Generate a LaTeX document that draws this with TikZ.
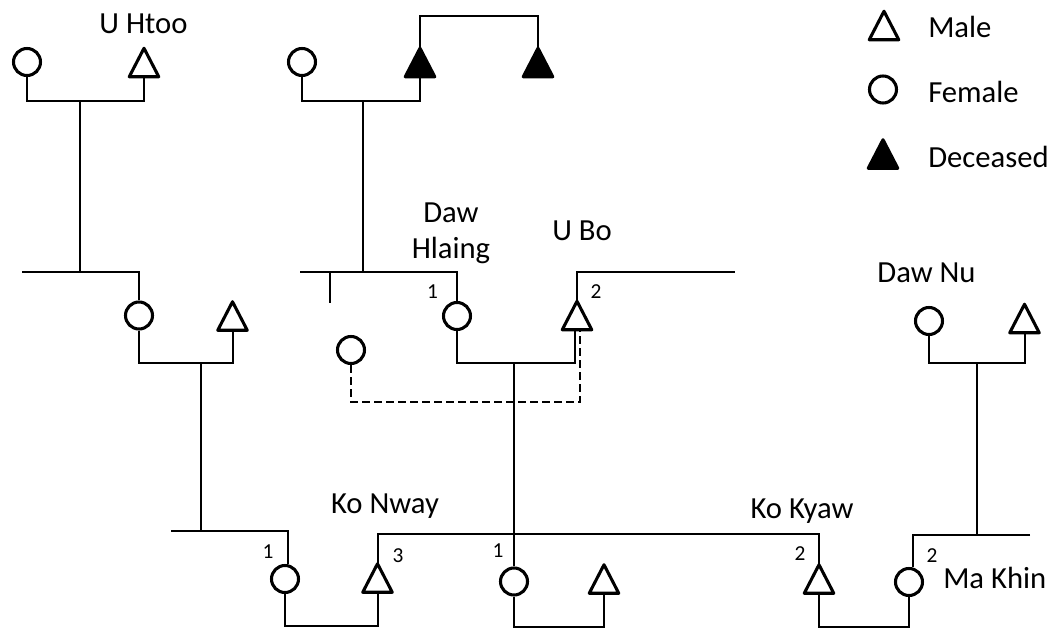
\documentclass[tikz,border=0pt]{standalone}
\usepackage{fontspec}
\setmainfont{Carlito}
\begin{document}
\begin{tikzpicture}[x=0.75pt, y=-0.75pt,
  link/.style={line width=1.5pt},
  tie/.style={line width=1.5pt, dash pattern=on 6pt off 3pt},
  ring/.style={circle, draw, line width=2.3pt, minimum size=20.25pt, inner sep=0pt},
  male/.style={rectangle, inner sep=0pt, minimum width=21.75pt, minimum height=21pt},
  tri/.style={line width=2.3pt, line join=round},
  who/.style={font=\fontsize{23}{27}\selectfont, anchor=base, inner sep=0pt},
  num/.style={font=\fontsize{16}{19}\selectfont, anchor=base, inner sep=0pt},
  key/.style={font=\fontsize{23}{27}\selectfont, anchor=base west, inner sep=0pt},
]
\useasboundingbox (0,0) rectangle (1054,628);

% ---------- people ----------
% first generation
\node[ring] (f1) at (27,62) {};
\node[male] (m1) at (144,62.5) {};
\node[ring] (f2) at (302,62) {};
\node[male] (d1) at (420,62.5) {};
\node[male] (d2) at (538,62.5) {};
% second generation
\node[ring] (fL) at (139,315.5) {};
\node[male] (mL) at (232.5,316) {};
\node[ring] (dh) at (457,316) {};
\node[male] (ub) at (577,315.5) {};
\node[ring] (fx) at (351,350) {};
\node[ring] (dn) at (929,321) {};
\node[male] (dnm) at (1024.5,318.5) {};
% third generation
\node[ring] (b1) at (285,579) {};
\node[male] (kn) at (377.5,578) {};
\node[ring] (b2) at (514,581.5) {};
\node[male] (b3) at (604,579) {};
\node[male] (kk) at (819,579) {};
\node[ring] (mk) at (909,582) {};
% key
\node[male] (lgM) at (884,25.5) {};
\node[ring] (lgF) at (883,89.5) {};
\node[male] (lgD) at (883,154) {};

% triangles for the male symbols
\foreach \n in {m1,mL,ub,dnm,kn,b3,kk,lgM}
  \draw[tri] (\n.south west) -- (\n.north) -- (\n.south east) -- cycle;
\foreach \n in {d1,d2,lgD}
  \draw[tri, fill=black] (\n.south west) -- (\n.north) -- (\n.south east) -- cycle;

% ---------- junction points ----------
\coordinate (c1) at (80,101);
\coordinate (s1) at (80,272);
\coordinate (e1) at (22,272);
\coordinate (c2) at (363,101);
\coordinate (s2) at (363,272);
\coordinate (e2) at (300,272);
\coordinate (t1) at (479,16);
\coordinate (st1) at (330,272);
\coordinate (st2) at (330,303);
\coordinate (e3) at (735,272);
\coordinate (c3) at (514,363);
\coordinate (c4) at (465,402);
\coordinate (s4) at (514,534);
\coordinate (c5) at (201,363);
\coordinate (s5) at (201,531);
\coordinate (e5) at (171,531);
\coordinate (c6) at (977,363);
\coordinate (s6) at (977,535);
\coordinate (e6) at (1030,535);
\coordinate (u1) at (331,626);
\coordinate (u2) at (559,627);
\coordinate (u3) at (865,627);

% ---------- marriages and descent ----------
\draw[link] (f1.south) |- (c1) -| (m1.south);
\draw[link] (c1) -- (s1);
\draw[link] (e1) -| (fL.north);

\draw[link] (f2.south) |- (c2) -| (d1.south);
\draw[link] (c2) -- (s2);
\draw[link] (d1.north) |- (t1) -| (d2.north);
\draw[link] (e2) -| (dh.north);
\draw[link] (st1) -- (st2);

\draw[link] (ub.north) |- (e3);
\draw[link] (dh.south) |- (c3) -| ([xshift=-1.5pt]ub.south);
\draw[tie] (fx.south) |- (c4) -| ([xshift=2.25pt]ub.south);
\draw[link] (c3) -- (b2.north);

\draw[link] (fL.south) |- (c5) -| (mL.south);
\draw[link] (c5) -- (s5);
\draw[link] (e5) -| ([xshift=2.25pt]b1.north);

\draw[link] (kn.north) |- (s4) -| (kk.north);

\draw[link] (dn.south) |- (c6) -| (dnm.south);
\draw[link] (c6) -- (s6);
\draw[link] (e6) -| ([xshift=3pt]mk.north);

\draw[link] (b1.south) |- (u1) -| (kn.south);
\draw[link] (b2.south) |- (u2) -| (b3.south);
\draw[link] (kk.south) |- (u3) -| (mk.south);

% ---------- names ----------
\node[who] (nHtoo) at (143.5,33) {U Htoo};
\node[who] (nDaw) at (451,222) {Daw};
\node[who] (nHlaing) at (451,258) {Hlaing};
\node[who] (nBo) at (582,240) {U Bo};
\node[who] (nNu) at (926.5,282) {Daw Nu};
\node[who] (nNway) at (385,513) {Ko Nway};
\node[who] (nKyaw) at (802,518) {Ko Kyaw};
\node[who, anchor=base west] (nKhin) at (943,588) {Ma Khin};

% ---------- marriage order ----------
\node[num] (o1) at (268,558) {1};
\node[num] (o2) at (398,562) {3};
\node[num] (o3) at (498,557) {1};
\node[num] (o4) at (432.5,298) {1};
\node[num] (o5) at (596,298) {2};
\node[num] (o6) at (800,560) {2};
\node[num] (o7) at (932,562) {2};

% ---------- key ----------
\node[key] (kM) at (928,37) {Male};
\node[key] (kF) at (928,102) {Female};
\node[key] (kD) at (928,167) {Deceased};
\end{tikzpicture}
\end{document}
